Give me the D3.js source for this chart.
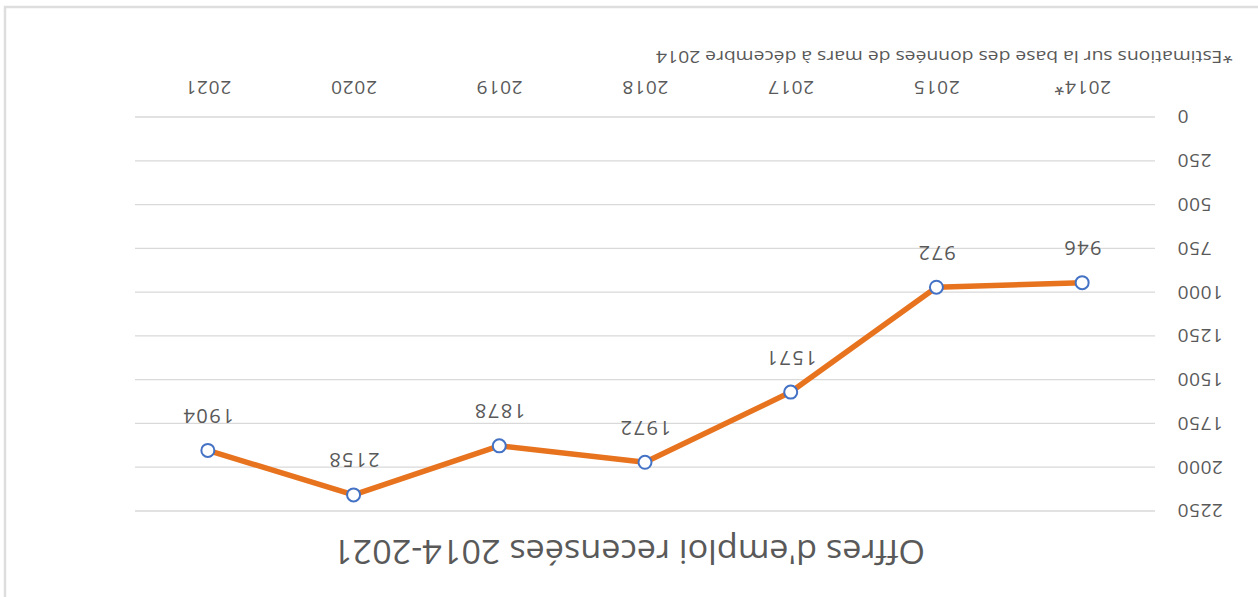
<!DOCTYPE html>
<html>
<head>
<meta charset="utf-8">
<script src="https://cdn.jsdelivr.net/npm/d3@7"></script>
<style>
  html, body { margin: 0; padding: 0; background: #fff; }
  svg { display: block; }
  text { font-family: "Open Sans", "Noto Sans", sans-serif; fill: #595959; }
</style>
</head>
<body>
<svg id="chart" width="1258" height="597"></svg>
<script>
const categories = ["2014*", "2015", "2017", "2018", "2019", "2020", "2021"];
const offres = [946, 972, 1571, 1972, 1878, 2158, 1904];
const yTicks = [0, 250, 500, 750, 1000, 1250, 1500, 1750, 2000, 2250];
const title = "Offres d'emploi recensées 2014-2021";
const footnote = "*Estimations sur la base des données de mars à décembre 2014";

const W = 1258, H = 597;
const svg = d3.select("#chart");
// The reference picture is turned upside down: draw upright, then rotate 180°.
const root = svg.append("g").attr("transform", `rotate(180 ${W / 2} ${H / 2})`);

// frame
root.append("rect")
  .attr("x", -10).attr("y", -10)
  .attr("width", 1253 + 10).attr("height", 590 + 10)
  .attr("fill", "#fff").attr("stroke", "#dedede").attr("stroke-width", 2.5);

const pLeft = 103, pRight = 1123, pTop = 86, pBottom = 480;
const x = d3.scaleBand().domain(categories).range([pLeft, pRight]);
const y = d3.scaleLinear().domain([0, 2250]).range([pBottom, pTop]);

// gridlines
root.append("g").selectAll("line").data(yTicks).join("line")
  .attr("x1", pLeft).attr("x2", pRight)
  .attr("y1", d => y(d)).attr("y2", d => y(d))
  .attr("stroke", "#d9d9d9").attr("stroke-width", 1.3);

// y axis labels
const yAxis = d3.axisLeft(y).tickValues(yTicks).tickFormat(d3.format("d")).tickSize(0).tickPadding(0);
const gy = root.append("g").attr("transform", `translate(81,0)`).call(yAxis);
gy.select(".domain").remove();
gy.selectAll("text").style("font-size", "19px").style("letter-spacing", "0.6px")
  .attr("fill", "#595959").style("font-family", '"Open Sans", sans-serif');

// x axis labels
const xAxis = d3.axisBottom(x).tickSize(0).tickPadding(0);
const gx = root.append("g").attr("transform", `translate(0,509)`).call(xAxis);
gx.select(".domain").remove();
gx.selectAll("text").attr("dy", "0.35em").style("font-size", "19px").style("letter-spacing", "0.8px")
  .attr("fill", "#595959").style("font-family", '"Open Sans", sans-serif');

const cx = d => x(d) + x.bandwidth() / 2;

// line
const line = d3.line().x((d, i) => cx(categories[i])).y(d => y(d));
root.append("path").datum(offres)
  .attr("d", line)
  .attr("fill", "none").attr("stroke", "#E8731F").attr("stroke-width", 5.5)
  .attr("stroke-linejoin", "round").attr("stroke-linecap", "round");

// markers
root.append("g").selectAll("circle").data(offres).join("circle")
  .attr("cx", (d, i) => cx(categories[i])).attr("cy", d => y(d))
  .attr("r", 6.5).attr("fill", "#fff").attr("stroke", "#4472C4").attr("stroke-width", 2);

// data labels (below points)
root.append("g").selectAll("text").data(offres).join("text")
  .attr("x", (d, i) => cx(categories[i])).attr("y", d => y(d) + 34)
  .attr("text-anchor", "middle").attr("dominant-baseline", "central")
  .style("font-size", "20px").style("letter-spacing", "1.5px")
  .text(d => d);

// title
root.append("text").attr("x", 629).attr("y", 45)
  .attr("text-anchor", "middle").attr("dominant-baseline", "central")
  .style("font-size", "32px")
  .attr("textLength", 592).attr("lengthAdjust", "spacingAndGlyphs")
  .text(title);

// footnote
root.append("text").attr("x", 25).attr("y", 540)
  .attr("dominant-baseline", "central")
  .style("font-size", "17px")
  .attr("textLength", 577).attr("lengthAdjust", "spacingAndGlyphs")
  .text(footnote);
</script>
</body>
</html>
